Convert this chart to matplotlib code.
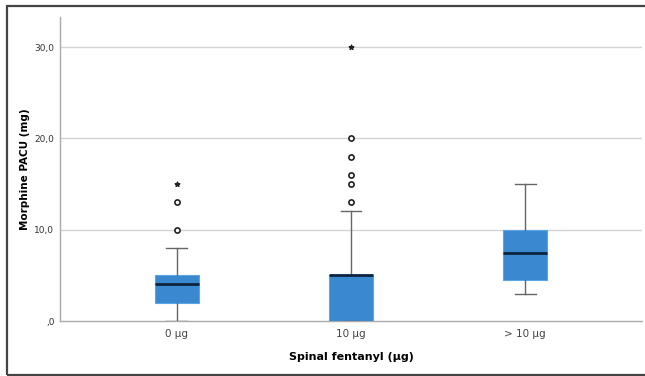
import matplotlib.pyplot as plt
from matplotlib.patches import Rectangle

# Box summary values (mg)
groups = ['0 µg', '10 µg', '> 10 µg']
q1 = [2.0, 0.0, 4.5]
medians = [4.0, 5.0, 7.5]
q3 = [5.0, 5.0, 10.0]
whisker_low = [0.0, 0.0, 3.0]
whisker_high = [8.0, 12.0, 15.0]
outliers = [[10.0, 13.0], [13.0, 15.0, 16.0, 18.0, 20.0], []]
extremes = [[15.0], [30.0], []]

y_ticks = [0, 10, 20, 30]
y_tick_labels = [',0', '10,0', '20,0', '30,0']


def main():
    fig = plt.figure(figsize=(6.45, 3.76), dpi=100)
    ax = fig.add_axes([60 / 645, 55 / 376, 582 / 645, 304 / 376])

    # Outer frame around the figure
    fig.patches.append(Rectangle((7 / 645, 1 / 376), 640 / 645, 369 / 376,
                                 transform=fig.transFigure, fill=False,
                                 edgecolor='#444444', linewidth=1.6))

    stats = []
    for i in range(len(groups)):
        stats.append({'q1': q1[i], 'med': medians[i], 'q3': q3[i],
                      'whislo': whisker_low[i], 'whishi': whisker_high[i],
                      'fliers': []})

    positions = list(range(len(groups)))
    ax.bxp(stats, positions=positions, widths=0.25, patch_artist=True,
           showfliers=False, showcaps=True,
           boxprops=dict(facecolor='#3a88cf', edgecolor='#5aa6e6', linewidth=0.8),
           medianprops=dict(color='#0d2340', linewidth=2.0),
           whiskerprops=dict(color='#666666', linewidth=1.0),
           capprops=dict(color='#666666', linewidth=1.0), capwidths=0.12,
           zorder=3)

    for i, pos in enumerate(positions):
        if outliers[i]:
            ax.scatter([pos] * len(outliers[i]), outliers[i], s=14,
                       facecolors='white', edgecolors='#222222',
                       linewidths=1.2, zorder=4)
        if extremes[i]:
            ax.scatter([pos] * len(extremes[i]), extremes[i], marker='*',
                       s=12, color='#222222', zorder=4)

    ax.set_xlim(-0.67, 2.67)
    ax.set_ylim(0, 33.3)
    ax.set_yticks(y_ticks)
    ax.set_yticklabels(y_tick_labels, fontsize=6.5, color='#333333')
    ax.set_xticks(positions)
    ax.set_xticklabels(groups, fontsize=7.5, color='#444444')
    ax.tick_params(axis='both', length=0, pad=4)
    ax.tick_params(axis='x', pad=6)

    for y in y_ticks[1:]:
        ax.axhline(y, color='#d4d4d4', linewidth=1.0, zorder=1)

    for side in ['top', 'right']:
        ax.spines[side].set_visible(False)
    for side in ['left', 'bottom']:
        ax.spines[side].set_color('#aaaaaa')
        ax.spines[side].set_linewidth(1.0)

    ax.set_ylabel('Morphine PACU (mg)', fontsize=7.5, fontweight='bold',
                  labelpad=3)
    ax.set_xlabel('Spinal fentanyl (µg)', fontsize=8, fontweight='bold',
                  labelpad=9)

    fig.savefig('out.png', dpi=100)


if __name__ == "__main__":
    main()
